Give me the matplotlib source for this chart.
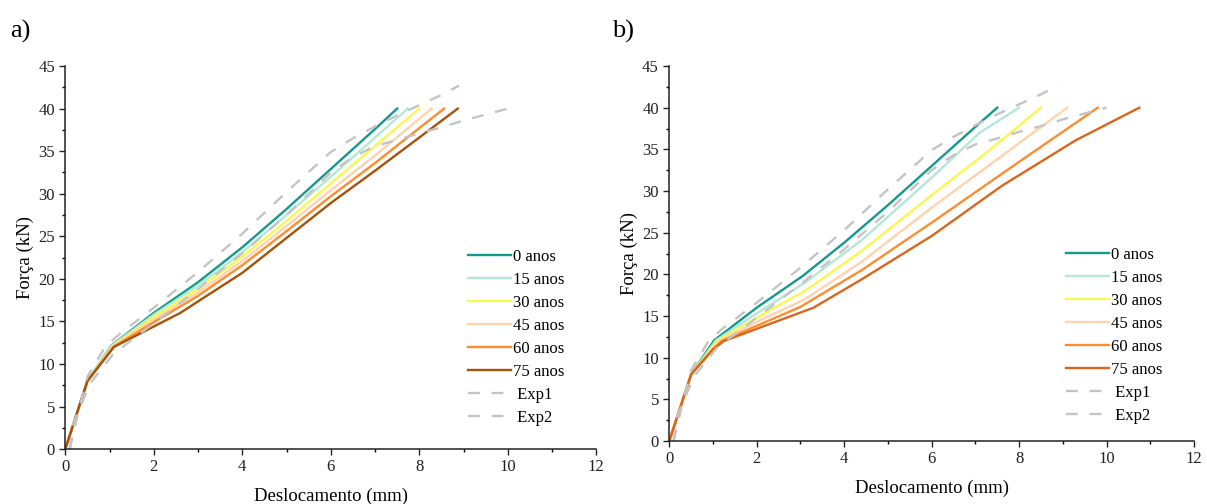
#!/usr/bin/env python3
"""
Force vs displacement curves for several ages (a: left model, b: right model),
compared with two experimental curves.

Writes out.png
"""
import matplotlib.pyplot as plt
from matplotlib.ticker import MultipleLocator

plt.rcParams["font.family"] = "serif"
plt.rcParams["font.serif"] = ["Liberation Serif", "DejaVu Serif"]

LABELS = ["0 anos", "15 anos", "30 anos", "45 anos", "60 anos", "75 anos"]

# --- panel a) ---
A_X = [
    [0, 0.5, 1.05, 2, 3, 4, 5, 6, 7, 7.5],
    [0, 0.5, 1.06, 2, 3, 4, 5, 6, 7, 7.74],
    [0, 0.5, 1.07, 2, 3, 4, 5, 6, 7, 8.0],
    [0, 0.5, 1.08, 2, 3, 4, 5, 6, 7, 8.28],
    [0, 0.5, 1.09, 2, 3, 4, 5, 6, 7, 8.56],
    [0, 0.5, 1.1, 2.6, 4, 5, 6, 7, 8, 8.87],
]
A_Y = [
    [0, 8, 12.2, 16.0, 19.6, 23.7, 28.2, 32.9, 37.6, 40],
    [0, 8, 12.2, 15.8, 19.2, 23.1, 27.5, 32.0, 36.6, 40],
    [0, 8, 12.1, 15.5, 18.8, 22.6, 26.8, 31.2, 35.6, 40],
    [0, 8, 12.1, 15.2, 18.4, 22.1, 26.2, 30.4, 34.5, 40],
    [0, 8, 12.0, 14.9, 18.0, 21.6, 25.6, 29.7, 33.6, 40],
    [0, 8, 12.0, 16.0, 20.7, 24.8, 28.9, 32.7, 36.6, 40],
]

# --- panel b) ---
B_X = [
    [0, 0.5, 1.03, 2, 3.05, 4, 5, 6, 7, 7.5],
    [0, 0.5, 1.07, 2, 3.1, 4.4, 6, 7.1, 8.0],
    [0, 0.5, 1.1, 2, 3.1, 4.4, 6, 7.3, 8.5],
    [0, 0.5, 1.15, 2, 3.1, 4.4, 6, 7.6, 9.1],
    [0, 0.5, 1.0, 1.2, 3.0, 4.4, 6, 8, 9.8],
    [0, 0.5, 1.0, 1.25, 3.3, 4.4, 6, 7.6, 9.3, 10.75],
]
B_Y = [
    [0, 8, 12.1, 16.0, 19.8, 23.8, 28.3, 33.0, 37.7, 40],
    [0, 8, 12.1, 15.3, 19.0, 24.1, 31.6, 37.0, 40],
    [0, 8, 12.0, 14.8, 18.0, 22.8, 29.5, 34.8, 40],
    [0, 8, 12.0, 14.3, 17.0, 21.5, 28.0, 34.2, 40],
    [0, 8, 11.0, 12.0, 16.1, 20.5, 26.2, 33.5, 40],
    [0, 8, 11.0, 12.0, 16.0, 19.4, 24.6, 30.6, 36.1, 40],
]

# experimental curves (same in both panels)
EXP1_X = [0.1, 0.3, 0.5, 0.9, 1.2, 2, 3, 4, 5, 6, 6.5, 7, 7.5, 8, 8.5, 8.9]
EXP1_Y = [0, 4.5, 8.5, 12.0, 13.4, 16.6, 20.8, 25.3, 30.2, 34.9, 36.5, 37.9, 39.2, 40.4, 41.6, 42.7]
EXP2_X = [0.1, 0.18, 0.56, 1.09, 1.6, 2, 3, 4, 5, 6, 6.5, 7, 7.5, 8, 8.5, 9, 9.5, 10]
EXP2_Y = [0, 3, 7.7, 11.2, 13.2, 14.8, 18.8, 23.0, 27.5, 32.5, 34.3, 35.6, 36.3, 37.1, 37.8, 38.6, 39.3, 40]

COLORS_A = ["#129a8a", "#b4e8d6", "#f8f850", "#ffd3ad", "#ff8c2e", "#a4520c"]
COLORS_B = ["#129a8a", "#b4e8d6", "#f8f850", "#ffd3ad", "#ff8c2e", "#d8661c"]
EXP_COLOR = "#c4c4c4"


def draw_panel(ax, xs, ys, colors, leg_anchor):
    for x, y, c, lab in zip(xs, ys, colors, LABELS):
        ax.plot(x, y, color=c, lw=1.7, label=lab)
    ax.plot(EXP1_X, EXP1_Y, color=EXP_COLOR, lw=1.7, ls=(0, (5, 5)), label=" Exp1")
    ax.plot(EXP2_X, EXP2_Y, color=EXP_COLOR, lw=1.7, ls=(0, (5, 5)), label=" Exp2")

    ax.set_xlim(0, 12)
    ax.set_ylim(0, 45)
    ax.xaxis.set_major_locator(MultipleLocator(2))
    ax.xaxis.set_minor_locator(MultipleLocator(1))
    ax.yaxis.set_major_locator(MultipleLocator(5))
    ax.yaxis.set_minor_locator(MultipleLocator(2.5))
    ax.tick_params(which="major", direction="out", length=4, width=1.0, labelsize=12, colors="#222222")
    ax.tick_params(which="minor", direction="out", length=2.5, width=1.0)
    for side in ("top", "right"):
        ax.spines[side].set_visible(False)
    for side in ("left", "bottom"):
        ax.spines[side].set_linewidth(1.1)
        ax.spines[side].set_color("#222222")
    ax.set_xlabel("Deslocamento (mm)", fontsize=13.5, labelpad=9)
    ax.set_ylabel("Força (kN)", fontsize=13.5, labelpad=3)
    ax.legend(loc="upper left", bbox_to_anchor=leg_anchor, frameon=False,
              fontsize=12, handlelength=2.6, handletextpad=0.1,
              labelspacing=0.42, borderpad=0, borderaxespad=0)


def main() -> int:
    fig = plt.figure(figsize=(12.07, 5.04), dpi=100)
    ax_a = fig.add_axes([0.0541, 0.109, 0.4399, 0.760])
    ax_b = fig.add_axes([0.5545, 0.125, 0.4347, 0.744])

    draw_panel(ax_a, A_X, A_Y, COLORS_A, (0.758, 0.522))
    draw_panel(ax_b, B_X, B_Y, COLORS_B, (0.756, 0.518))

    fig.text(0.008, 0.925, "a)", fontsize=19)
    fig.text(0.507, 0.925, "b)", fontsize=19)

    fig.savefig("out.png", dpi=100)
    plt.close(fig)
    return 0


if __name__ == "__main__":
    raise SystemExit(main())
